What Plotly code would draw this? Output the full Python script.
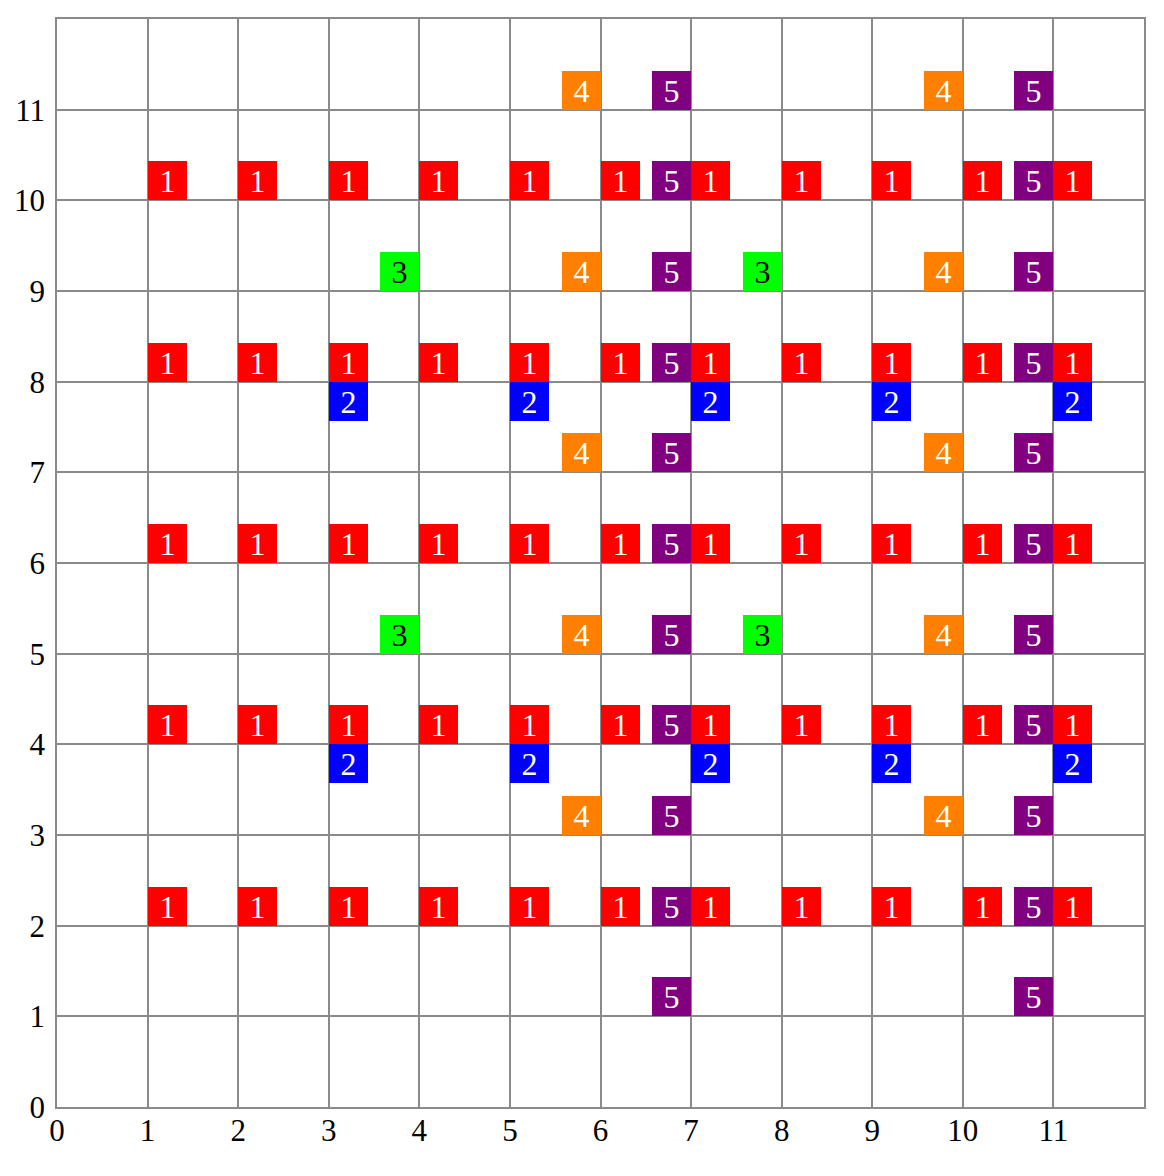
import plotly.graph_objects as go

# lattice points where each numbered label sits
ONE_X = [1, 2, 3, 4, 5, 6, 7, 8, 9, 10, 11]
ONE_Y = [2, 4, 6, 8, 10]
TWO_X = [3, 5, 7, 9, 11]
TWO_Y = [4, 8]
THREE_X = [4, 8]
THREE_Y = [5, 9]
FOUR_X = [6, 10]
FOUR_Y = [3, 5, 7, 9, 11]
FIVE_X = [7, 11]
FIVE_Y = [1, 2, 3, 4, 5, 6, 7, 8, 9, 10, 11]

TICKS = list(range(12))

# label -> (xs, ys, fill, text colour, xanchor, yanchor)
GROUPS = [
    ("1", ONE_X, ONE_Y, "#ff0000", "white", "left", "bottom"),
    ("2", TWO_X, TWO_Y, "#0000ff", "white", "left", "top"),
    ("3", THREE_X, THREE_Y, "#00ff00", "black", "right", "bottom"),
    ("4", FOUR_X, FOUR_Y, "#ff8000", "white", "right", "bottom"),
    ("5", FIVE_X, FIVE_Y, "#800080", "white", "right", "bottom"),
]

BOX = 39
SERIF = "Liberation Serif, Times New Roman, serif"

annotations = []
for label, xs, ys, fill, fg, xa, ya in GROUPS:
    for y in ys:
        for x in xs:
            annotations.append(dict(
                x=x, y=y, xref="x", yref="y",
                text=label, showarrow=False,
                xanchor=xa, yanchor=ya,
                width=BOX, height=BOX,
                bgcolor=fill, borderpad=0, borderwidth=0,
                align="center", valign="middle",
                font=dict(family=SERIF, size=32, color=fg),
            ))

fig = go.Figure()
fig.add_trace(go.Scatter(x=[0, 12], y=[0, 12], mode="markers",
                         marker=dict(opacity=0), hoverinfo="skip",
                         showlegend=False))

axis_style = dict(
    range=[0, 12], tickvals=TICKS, ticktext=[str(t) for t in TICKS],
    showgrid=True, gridcolor="#8a8a8a", gridwidth=1.5,
    showline=True, linecolor="#8a8a8a", linewidth=1.5, mirror=True,
    zeroline=False, ticks="", automargin=False,
    tickfont=dict(family=SERIF, size=31, color="black"),
    fixedrange=True,
)

fig.update_layout(
    width=1148, height=1160,
    margin=dict(l=49, r=12, t=11, b=61),
    plot_bgcolor="white", paper_bgcolor="white",
    xaxis=dict(axis_style, ticklabelstandoff=-5),
    yaxis=dict(axis_style, ticklabelstandoff=4),
    annotations=annotations,
    showlegend=False,
)

fig.write_html("out.html")
